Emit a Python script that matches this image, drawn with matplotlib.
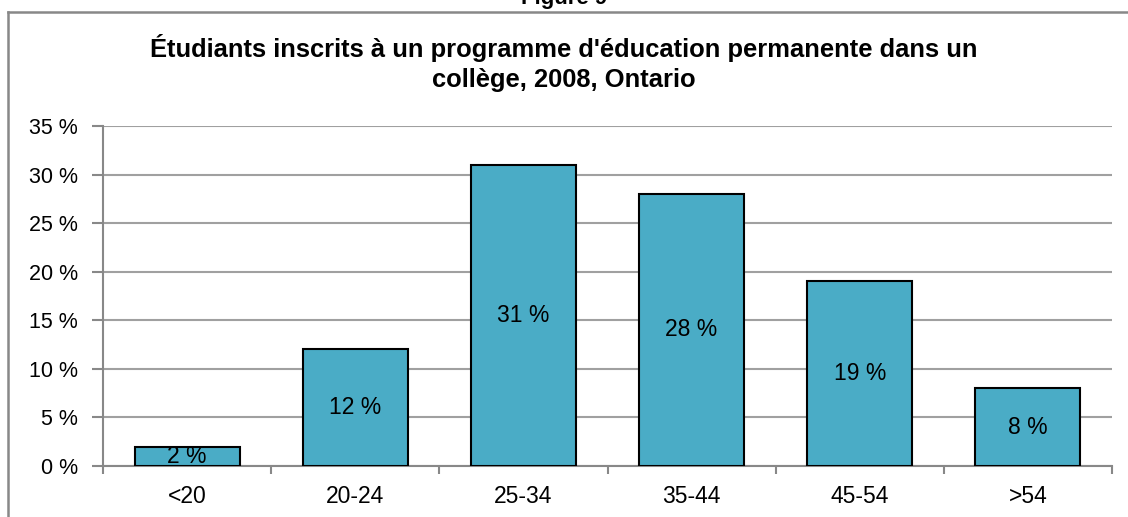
import matplotlib
matplotlib.use("Agg")
import matplotlib.pyplot as plt
from matplotlib.lines import Line2D

categories = ["<20", "20-24", "25-34", "35-44", "45-54", ">54"]
values = [2, 12, 31, 28, 19, 8]
bar_labels = ["2 %", "12 %", "31 %", "28 %", "19 %", "8 %"]
yticks = [0, 5, 10, 15, 20, 25, 30, 35]
ytick_labels = ["0 %", "5 %", "10 %", "15 %", "20 %", "25 %", "30 %", "35 %"]

W, H = 1128, 517
fig = plt.figure(figsize=(W / 100, H / 100), dpi=100)
plt.rcParams['font.family'] = ['Liberation Sans', 'DejaVu Sans']

# plot area in pixels
left, right, top, bottom = 103, 1112, 126, 466
ax = fig.add_axes([left / W, 1 - bottom / H, (right - left) / W, (bottom - top) / H])

x = list(range(len(categories)))
ax.bar(x, values, width=0.625, color="#4AACC6", edgecolor="black", linewidth=1.5, zorder=3)
for xi, v, lab in zip(x, values, bar_labels):
    ax.text(xi, v / 2, lab, ha="center", va="center", fontsize=16.5, zorder=4)

ax.set_xlim(-0.5, len(categories) - 0.5)
ax.set_ylim(0, 35)
ax.set_yticks(yticks)
ax.set_yticklabels(ytick_labels, fontsize=15.5)
ax.set_xticks([i - 0.5 for i in range(len(categories) + 1)])
ax.set_xticklabels([])
ax.set_xticks(x, minor=True)
ax.set_xticklabels(categories, minor=True, fontsize=16.5)
ax.tick_params(axis="x", which="minor", length=0, pad=14)
ax.tick_params(axis="x", which="major", length=6, color="#888888", width=1.5)
ax.tick_params(axis="y", length=8, color="#888888", width=1.5, pad=10)
ax.yaxis.grid(True, color="#A0A0A0", linewidth=1.5, zorder=0)
for s in ["top", "right"]:
    ax.spines[s].set_visible(False)
for s in ["left", "bottom"]:
    ax.spines[s].set_color("#888888")
    ax.spines[s].set_linewidth(1.5)

# outer frame
fig.add_artist(Line2D([8 / W, 8 / W], [0, 1 - 11.5 / H], color="#888888", linewidth=1.8, transform=fig.transFigure))
fig.add_artist(Line2D([8 / W, 1], [1 - 11.5 / H, 1 - 11.5 / H], color="#888888", linewidth=1.8, transform=fig.transFigure))

fig.text(564 / W, 1 - 4 / H, "Figure 9", ha="center", va="baseline", fontsize=16, fontweight="bold")
fig.text(564 / W, 1 - 63 / H,
         "Étudiants inscrits à un programme d'éducation permanente dans un\ncollège, 2008, Ontario",
         ha="center", va="center", fontsize=18.4, fontweight="bold", linespacing=1.32)

fig.savefig("out.png", dpi=100)
